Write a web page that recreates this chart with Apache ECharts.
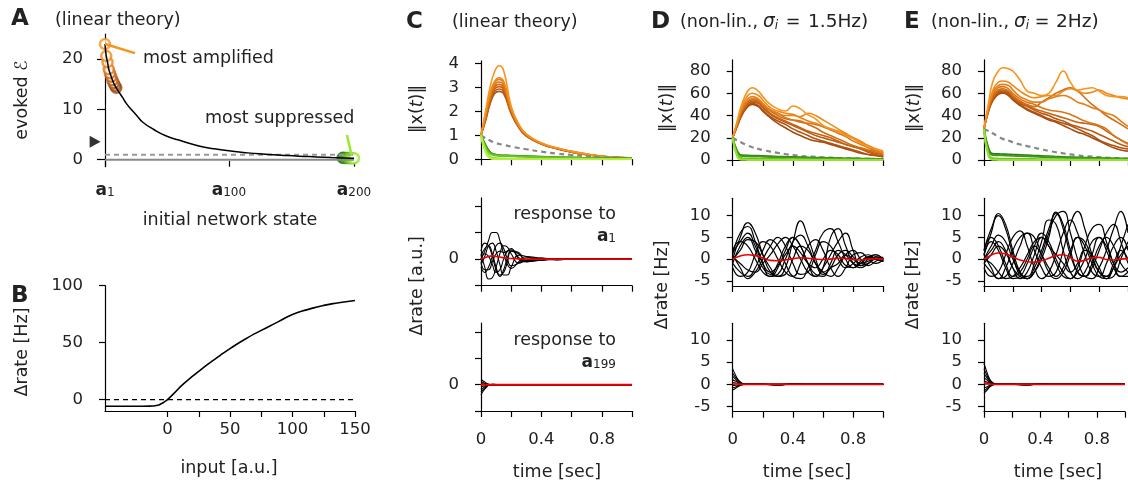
<!DOCTYPE html>
<html><head><meta charset="utf-8">
<script src="https://cdn.jsdelivr.net/npm/echarts@6/dist/echarts.min.js"></script>
<style>html,body{margin:0;padding:0;background:#fff}#c{width:1128px;height:487px}</style>
</head><body><div id="c"></div>
<script>
// ---------------- DATA ----------------
// Panel A: evoked energy vs initial state index
const idxA = [1,2,3,4,5,6,7,8,9,10,12,15,18,22,26,31,40,50,60,76,90,103,115,129,142,156,170,182,191,200];
const evokedA = [23,20.6,19.4,18.0,17.2,16.5,15.8,15.2,14.7,14.3,13.5,12.4,11.2,10.0,8.9,7.5,6.0,4.7,3.9,2.7,2.1,1.65,1.35,1.1,0.9,0.7,0.55,0.42,0.34,0.28];
const ampIdx = [1,2,3,4,5,6,7,8,9,10];
const ampVals = [23,20.6,19.4,18.0,17.2,16.5,15.8,15.2,14.7,14.3];
const supIdx = [191,192,193,194,195,196,197,198,199,200];
const supVals = [0.36,0.35,0.34,0.33,0.32,0.31,0.30,0.29,0.28,0.28];
const baselineA = 1;          // dashed reference
const triangleA = [-6.9, 3.55]; // black marker left of axis
const ampLeaderX = [1, 25], ampLeaderY = [23, 21.2];
const supLeaderX = [194.4, 198], supLeaderY = [4.9, 0.9];
const xTicksA = [1, 100, 200];
const yTicksA = [0, 10, 20];

// Panel B: transfer function
const inputB = [-50,-20,-12,-8,-5,-2,0,5,13,26,38,50,62,75,88,100,112,125,137,150];
const rateB  = [-5.8,-5.8,-5.6,-5.0,-3.6,-1.6,0,5.3,14,25.7,35.5,44.7,53,60.8,68,74.8,79,82.7,85,87];
const xTicksB = [0,25,50,75,100,125,150], xLabelsB = [0,50,100,150], yTicksB = [0,50,100];

// Panel C top (linear theory norms)
const tC = [0,0.03,0.06,0.09,0.12,0.15,0.2,0.25,0.3,0.4,0.5,0.6,0.7,0.8,0.9,1.0];
const ampC = [
 [1,2.0,3.0,3.65,3.9,3.7,2.2,1.45,1.05,0.68,0.48,0.33,0.22,0.13,0.08,0.05],
 [1,1.9,2.75,3.25,3.4,3.25,2.15,1.45,1.05,0.68,0.48,0.33,0.22,0.13,0.08,0.05],
 [1,1.85,2.7,3.2,3.33,3.2,2.1,1.42,1.03,0.67,0.47,0.32,0.21,0.13,0.08,0.05],
 [1,1.8,2.6,3.1,3.22,3.1,2.05,1.4,1.02,0.66,0.46,0.32,0.21,0.13,0.08,0.05],
 [1,1.75,2.5,3.0,3.12,3.0,2.0,1.38,1.0,0.65,0.46,0.31,0.2,0.12,0.07,0.05],
 [1,1.7,2.45,2.92,3.03,2.92,1.97,1.36,0.99,0.65,0.45,0.31,0.2,0.12,0.07,0.05],
 [1,1.65,2.38,2.83,2.93,2.83,1.93,1.34,0.98,0.64,0.45,0.3,0.2,0.12,0.07,0.04],
 [1,1.6,2.3,2.74,2.83,2.74,1.9,1.32,0.97,0.64,0.44,0.3,0.19,0.12,0.07,0.04]
];
const supC = [
 [1,0.6,0.3,0.2,0.17,0.16,0.15,0.14,0.13,0.11,0.09,0.07,0.05,0.04,0.03,0.02],
 [1,0.55,0.27,0.19,0.16,0.15,0.14,0.13,0.12,0.1,0.08,0.06,0.05,0.04,0.03,0.02],
 [1,0.5,0.24,0.17,0.15,0.14,0.13,0.12,0.11,0.09,0.07,0.06,0.04,0.03,0.02,0.02],
 [1,0.4,0.12,0.05,0.03,0.03,0.02,0.02,0.02,0.01,0.01,0.01,0,0,0,0],
 [1,0.3,0.05,0.01,0,0,0,0,0,0,0,0,0,0,0,0]
];
const grayC = [1,0.88,0.78,0.7,0.64,0.6,0.53,0.47,0.42,0.32,0.24,0.18,0.13,0.1,0.07,0.05];

// Panel C middle / bottom
const tCm = [0,0.025,0.05,0.075,0.1,0.125,0.15,0.175,0.2,0.25,0.3,0.4,0.5,0.6,0.7,0.8,0.9,1.0];
const respC1 = [
 [0,0.3,0.7,1.0,1.0,0.7,0.2,-0.2,-0.35,-0.1,0.1,0.02,-0.03,0,0,0,0,0],
 [0.2,-0.3,-0.75,-0.7,-0.3,0.2,0.5,0.45,0.2,-0.15,-0.05,0.03,0,0,0,0,0,0],
 [-0.2,0.1,0.5,0.6,0.3,-0.2,-0.6,-0.6,-0.3,0.15,0.1,-0.05,0,0,0,0,0,0],
 [0.1,0.4,0.5,0.2,-0.3,-0.6,-0.5,-0.1,0.3,0.2,-0.05,0,0.02,0,0,0,0,0],
 [-0.3,-0.5,-0.3,0.1,0.5,0.6,0.4,0,-0.25,-0.15,0.05,0.03,0,0,0,0,0,0],
 [0.3,0.6,0.5,0.1,-0.4,-0.65,-0.4,0.05,0.3,0.25,-0.1,-0.02,0.02,0,0,0,0,0],
 [-0.1,-0.4,-0.4,-0.1,0.2,0.3,0.25,0.3,0.35,0.05,-0.1,0.04,-0.02,0,0,0,0,0],
 [0,0.2,0.1,-0.2,-0.5,-0.4,0,0.3,0.4,0,-0.1,-0.04,0.02,0,0,0,0,0]
];
const meanC1 = [0,0.05,0.1,0.12,0.1,0.08,0.05,0.03,0.02,0.01,0,0,0,0,0,0,0,0];
const tB = [0,0.02,0.04,0.06,0.08,0.1,0.15,0.2,0.3,0.4,0.5,0.6,0.8,1.0];
const respC199 = [
 [0.2,0.12,0.05,0,-0.02,-0.01,0,0,0,0,0,0,0,0],
 [0.12,0.07,0.03,0,-0.01,0,0,0,0,0,0,0,0,0],
 [0.05,0.03,0.01,0,0,0,0,0,0,0,0,0,0,0],
 [-0.08,-0.05,-0.02,0,0.01,0,0,0,0,0,0,0,0,0],
 [-0.18,-0.1,-0.04,0,0.01,0,0,0,0,0,0,0,0,0],
 [-0.28,-0.15,-0.05,0.01,0.02,0,0,0,0,0,0,0,0,0],
 [-0.38,-0.2,-0.07,0.01,0.02,0.01,0,0,0,0,0,0,0,0]
];
const meanC199 = [0,0,0,0,0,0,0,0,0,0,0,0,0,0];

// Panels D / E top (non-linear norms)
const tD = [0,0.03,0.06,0.1,0.13,0.17,0.2,0.25,0.3,0.35,0.4,0.45,0.5,0.55,0.6,0.65,0.7,0.75,0.8,0.85,0.9,0.95,1.0];
const ampD = [
 [20,35,50,62,65,62,57,50,46,44,48.5,46,40.5,37,31,28,25.5,22,19,15,12,10,8],
 [20,34,48,58,60,58,54,47,44,42,41,39,42,40,36,32,28,24,20,17,13,10,7],
 [20,33,46,55,57,55,51,45,42,40,40,38,35,33,30,28,26,23,20,16,12,9,6],
 [20,33,45,53,55,54,50,45,42,38,36,34,33,32,30,27,24,21,17,14,11,8,6],
 [20,32,44,52,54,53,49,44,40,37,36,35,32,29,25,22,19,16,13,11,9,7,5],
 [20,32,43,51,53,52,48,42,38,35,32,29,26,24,22,20,17,14,12,10,8,6,5],
 [20,31,42,50,52,51,47,41,37,34,31,28,25,22,20,18,16,14,12,10,7,5,4],
 [20,31,41,49,51,49,45,39,35,32,28,25,22,19,17,15,13,11,9,7,5,4,3],
 [20,30,40,48,50,48,44,38,33,29,25,22,19,17,16,14,12,10,8,6,5,4,3]
];
const supD = [
 [20,8,4.2,4,3.9,3.8,3.6,3.3,3,2.8,2.6,2.4,2.2,2,1.8,1.7,1.5,1.4,1.3,1.2,1.1,1,0.9],
 [20,7,3.5,3.3,3.2,3.1,3,2.8,2.6,2.4,2.2,2,1.9,1.7,1.6,1.5,1.3,1.2,1.1,1,0.9,0.8,0.7],
 [20,5,1.5,1.2,1.1,1,1,0.9,0.8,0.8,0.7,0.6,0.6,0.5,0.5,0.4,0.4,0.4,0.3,0.3,0.3,0.2,0.2],
 [20,3,0.2,0.1,0,0,0,0,0,0,0,0,0,0,0,0,0,0,0,0,0,0,0]
];
const grayD = [20,17.5,15.5,13,11.5,10,9,7.6,6.4,5.3,4.4,3.7,3.2,2.8,2.4,2.1,1.8,1.5,1.3,1.2,1.0,0.9,0.8];
const ampE = [
 [28,50,70,80,83,82,80,72,62,60,58,60,70,80,70,63,64,65,62,58,57,57,56],
 [28,48,62,70,71,70,67,62,58,56,57,58,58,62,64,62,60,61,63,60,58,56,55],
 [28,47,60,67,68,67,63,57,54,52,52,55,57,58,56,52,50,47,45,42,40,35,30],
 [28,46,58,65,66,64,60,55,52,50,47,45,44,43,41,38,35,33,31,28,22,18,14],
 [28,45,57,63,64,62,58,53,50,48,52,56,60,63,65,62,56,50,45,40,36,32,28],
 [28,45,56,62,63,61,57,52,49,46,44,42,40,38,36,34,33,32,30,26,22,18,15],
 [28,44,55,61,62,60,56,51,48,45,42,40,37,35,32,30,28,26,23,20,17,14,12],
 [28,44,54,60,61,59,55,50,46,43,40,37,35,33,31,28,25,22,18,15,13,11,10],
 [28,43,53,59,60,58,54,49,45,42,39,36,34,31,28,25,23,20,17,14,11,9,8]
];
const supE = [
 [28,11,5.6,5.3,5.2,5,4.8,4.5,4.2,3.9,3.6,3.3,3,2.7,2.5,2.3,2.1,1.9,1.7,1.5,1.4,1.3,1.2],
 [28,9,4.5,4.3,4.2,4,3.8,3.6,3.3,3.1,2.8,2.6,2.4,2.2,2,1.8,1.6,1.5,1.4,1.2,1.1,1,0.9],
 [28,6,1.5,1.2,1.1,1,1,0.9,0.9,0.8,0.7,0.7,0.6,0.6,0.5,0.5,0.4,0.4,0.4,0.3,0.3,0.3,0.2],
 [28,4,0.3,0.1,0,0,0,0,0,0,0,0,0,0,0,0,0,0,0,0,0,0,0]
];
const grayE = [28,26,24,21,19,17.5,16,14,12.5,11,9.5,8.2,7,6,5,4.2,3.5,3,2.5,2.1,1.8,1.5,1.3];

// Panels D / E middle (responses to a1)
const tM = [0,0.05,0.1,0.15,0.2,0.25,0.3,0.35,0.4,0.45,0.5,0.55,0.6,0.65,0.7,0.75,0.8,0.85,0.9,0.95,1.0];
const respD1 = [
 [0,5,8.4,6,1,-3,-4,-2,4,8.8,5,0,-3,-2,-1,1,0,-1,0.5,0,-0.5],
 [1,6,7.5,4,-1,-4,-3.5,0,4,5.5,3,-1,-3.5,-2,1,2,0.5,-1,-0.5,0.5,0],
 [-1,-3,-4,-2,2,4.5,3,-1,-4,-4.5,-2,2,6,7,4,0,-2,-1,0.5,1,-0.5],
 [2,4,3,0,-3,-4,-2,2,5,3,-1,-4,-2,5,7,3,-1,-2,-1,0.5,0],
 [-2,-4,-3,1,4,3,0,-3,-4,-1,3,4.5,2,-2,-4,-2,1,1.5,0,-1,0],
 [0,2,4.5,4,1,-2,-4,-3.5,0,3,2,-1,-3,-4,-2,1,2,0,-1.5,-0.5,0.5],
 [1,-2,-4.5,-3,0,3,5,3,-1,-3.5,-3,1,4,3,0,-2,-1,0.5,1,0,-0.5],
 [-1,3,5,2,-2,-3.5,-1,3,5,3,-1,-3.5,-4,-1,2,1,-1,-1.5,0,1,0],
 [0.5,-1,-2.5,-3,-1,1,3.5,5,3,0,-3,-4,-2,1,4,6,2,-1.5,-1,0,-0.5],
 [1.5,4,6,3,-1,-3,-1.5,1,3,1.5,-1,-2,0,2,1,-1.5,-2,-0.5,0.5,0,0]
];
const meanD1 = [0,0.7,1,0.8,0.3,-0.3,-0.4,-0.2,0.1,0.3,0.2,0,-0.1,0,0.2,0.1,-0.1,-0.2,0,0.1,0];
const respE1 = [
 [1,6,10.5,8,2,-3,-4.5,-3,0,5,10.8,8,2,-3,-4,-2,2,6,8,4,-1],
 [2,7,10,7,1,-3.5,-4,-1,4,9,8,2,-3,-4.5,-3,1,5,3,-1,-3,-2],
 [-1,-3,-4.5,-2,2,5,6,2,-2,-4,-3,2,8,11,7,1,-3,-4,-2,3,8],
 [0,3,5.5,4,0,-3,-4.5,-3,1,6,10,11,6,0,-4,-4.5,-2,2,7,11,6],
 [-2,-4,-3,1,5,6.5,3,-2,-4.5,-3,1,6,9,6,1,-3,-4,-1,3,5,2],
 [1,-2,-4.5,-4,-1,3,6,5,1,-3,-4.5,-3,1,5,4,0,-3,-4,-1,2,0],
 [0,2,4,2,-2,-4.5,-3,1,5,3,-1,-4,-4.5,-2,3,7,8,4,-1,-4,-3],
 [2,5,3,-1,-4,-3,0,3,1,-2,-4,-2,2,5,3,-1,-4,-4.5,-2,1,3],
 [-1,1,3,1.5,-2,-4,-4.5,-2,2,7,10.5,7,1,-3,-4,-1,3,5,3,-1,-3],
 [1,4,2,-2,-4.5,-4,-1,3,6,4,0,-3,-4.5,-3,0,4,5,2,-2,-4,-4],
 [0,-1,-3,-4.5,-4,-2,1,4,5,3,1,-1,-3,-1,2,1,-2,-4.5,-4,0,4]
];
const meanE1 = [0,0.9,1.4,1.2,0.5,-0.2,-0.6,-0.7,-0.4,0.2,0.8,1,0.3,-0.5,-0.3,0.3,0.4,-0.1,-0.2,0,0.1];

// Panels D / E bottom (responses to a199)
const respD199 = [
 [3.5,2.0,0.9,0.3,0.05,0,0,0,-0.2,0.1,0,0,0,0],
 [2.5,1.5,0.7,0.2,0,0,0,0,-0.15,0.08,0,0,0,0],
 [1.8,1.1,0.5,0.15,0,0,0,0,-0.1,0.05,0,0,0,0],
 [1.0,0.7,0.35,0.1,0,0,0,0,-0.1,0.05,0,0,0,0],
 [0.4,0.3,0.15,0.05,0,0,0,0,0,0,0,0,0,0],
 [-0.3,-0.2,-0.1,0,0,0,0,0,0,0,0,0,0,0],
 [-0.8,-0.6,-0.3,-0.1,0,0,0,0,0,0,0,0,0,0],
 [-1.3,-0.9,-0.45,-0.15,0,0,0,0,0,0,0,0,0,0]
];
const meanD199 = [0,0.1,0.05,0,0,0,0,0,0,0,0,0,0,0];
const respE199 = [
 [4.7,2.8,1.2,0.4,0.1,0,0,0,-0.2,0.1,0,0,0,0],
 [3.5,2.1,0.9,0.3,0.05,0,0,0,-0.15,0.08,0,0,0,0],
 [2.5,1.5,0.7,0.2,0,0,0,0,-0.1,0.05,0,0,0,0],
 [1.5,1.0,0.45,0.15,0,0,0,0,0,0,0,0,0,0],
 [0.8,0.5,0.25,0.08,0,0,0,0,0,0,0,0,0,0],
 [0,0.1,0.05,0,0,0,0,0,0,0,0,0,0,0],
 [-0.8,-0.6,-0.3,-0.1,0,0,0,0,0,0,0,0,0,0],
 [-1.5,-1.0,-0.5,-0.15,0,0,0,0,0,0,0,0,0,0],
 [-2.0,-1.4,-0.65,-0.2,0,0,0,0,0,0,0,0,0,0]
];
const meanE199 = [0.3,0.2,0.1,0,0,0,0,0,0,0,0,0,0,0];

const timeTicksLabelled = [0, 0.4, 0.8];
const yTicksRate = [-5,0,5,10];
const yTicksNorm = [0,20,40,60,80];
const yTicksC = [0,1,2,3,4];
const yTicksCr = [-1,0,1,2];

// ---------------- STYLE ----------------
const FF = 'DejaVu Sans';
const TXT = '#222';
const orangeShades = ['#f7941d','#ee8a1a','#e48018','#d97616','#cf6d15','#c46414','#b95b13','#ae5312','#a34b11'];
const greenShades = ['#2a7d12','#3f9a18','#6cc424','#95e030','#b4f040'];
const ampCircleColors = ['#f7931e','#f08a1c','#e9821a','#d97316','#cc6815','#bf5e14','#b25613','#a85012','#9e4b12','#964611'];
const supCircleColors = ['#1f6e0e','#2a7d12','#358a15','#409818','#4ea61b','#5cb41e','#6cc222','#7cd026','#8cdc2a','#9ce82e'];

const gridKeys = ['A','B','C1','C2','C3','D1','D2','D3','E1','E2','E3'];
const gi = k => gridKeys.indexOf(k);
const grids = {
  A:{left:105,top:34,width:249,height:132.7},
  B:{left:105,top:285.7,width:250,height:125.3},
  C1:{left:481,top:60.9,width:151,height:98.4},
  C2:{left:481,top:197.9,width:151,height:87.8},
  C3:{left:481,top:323,width:151,height:88},
  D1:{left:732.7,top:59.9,width:150.6,height:100.1},
  D2:{left:732.7,top:198.3,width:150.6,height:87.7},
  D3:{left:732.7,top:323.3,width:150.6,height:88.4},
  E1:{left:984,top:59.9,width:150.7,height:100.1},
  E2:{left:984,top:198.3,width:150.7,height:87.7},
  E3:{left:984,top:323.3,width:150.7,height:88.4}
};
const AX = {color:'#000', width:1.2};
const labelBase = {color:TXT, fontSize:16.5, fontFamily:FF};

function timeX(g, showLabels) {
  return {gridIndex:gi(g), type:'value', min:0, max:1, interval:0.2,
    axisLine:{show:true, onZero:false, lineStyle:AX},
    axisTick:{show:true, length:6, lineStyle:AX},
    axisLabel: showLabels ? Object.assign({}, labelBase, {margin:20, showMaxLabel:true,
      formatter: v => { const r = Math.round(v*10)/10; return timeTicksLabelled.includes(r) ? String(r) : ''; }}) : {show:false},
    splitLine:{show:false}};
}
function valY(g, min, max, ticks, labels) {
  return {gridIndex:gi(g), type:'value', min, max,
    axisLine:{show:true, onZero:false, lineStyle:AX},
    axisTick:{show:true, length:6, lineStyle:AX, customValues:ticks},
    axisLabel: Object.assign({}, labelBase, {margin:22, customValues:labels||ticks}),
    splitLine:{show:false}};
}
const subRich = {
  a:{fontSize:17, fontWeight:'bold', fontFamily:FF, color:TXT, lineHeight:20, verticalAlign:'bottom'},
  s:{fontSize:12, fontFamily:FF, color:TXT, lineHeight:6, verticalAlign:'bottom'}
};

const xAxes = [
  {gridIndex:gi('A'), type:'value', min:1, max:200,
   axisLine:{show:false, onZero:false},
   axisTick:{show:true, inside:true, length:6, lineStyle:AX, customValues:xTicksA},
   axisLabel:{customValues:xTicksA, margin:12, formatter: v => `{a|a}{s|${v}}`, rich:subRich},
   splitLine:{show:false}},
  {gridIndex:gi('B'), type:'value', min:-50, max:150,
   axisLine:{show:true, onZero:false, lineStyle:AX},
   axisTick:{show:true, length:6, lineStyle:AX, customValues:xTicksB},
   axisLabel:Object.assign({}, labelBase, {margin:10, customValues:xLabelsB}),
   splitLine:{show:false}},
  timeX('C1',false), timeX('C2',false), timeX('C3',true),
  timeX('D1',false), timeX('D2',false), timeX('D3',true),
  timeX('E1',false), timeX('E2',false), timeX('E3',true)
];
const yAxes = [
  Object.assign(valY('A', -1.4, 25, yTicksA), {axisTick:{show:true,length:8,lineStyle:AX,customValues:yTicksA}}),
  valY('B', -10, 100, yTicksB),
  valY('C1', 0, 4.1, yTicksC),
  valY('C2', -1, 2.3, yTicksCr, [0]),
  valY('C3', -1, 2.35, yTicksCr, [0]),
  valY('D1', 0, 90, yTicksNorm),
  valY('D2', -6.2, 14, yTicksRate),
  valY('D3', -6.2, 13.8, yTicksRate),
  valY('E1', 0, 90, yTicksNorm),
  valY('E2', -6.2, 14, yTicksRate),
  valY('E3', -6.2, 13.8, yTicksRate)
];

const series = [];
function L(g, xs, ys, color, width, extra) {
  series.push(Object.assign({type:'line', xAxisIndex:gi(g), yAxisIndex:gi(g),
    data: xs.map((x,i)=>[x, ys[i]]), showSymbol:false, smooth:0.5, silent:true,
    lineStyle:{color, width}}, extra||{}));
}
const dashed = (c,w) => ({lineStyle:{color:c, width:w, type:[5,4]}, smooth:0.5});

// Panel A
L('A', [1,200], [0,0], '#888', 2, {smooth:false});
L('A', [1,200], [baselineA, baselineA], '#999', 2, Object.assign(dashed('#999',2), {smooth:false}));
L('A', idxA, evokedA, '#000', 1.5);
L('A', ampLeaderX, ampLeaderY, '#f7941d', 2.5, {smooth:false});
L('A', supLeaderX, supLeaderY, '#9ce82e', 2.5, {smooth:false});
series.push({type:'scatter', xAxisIndex:gi('A'), yAxisIndex:gi('A'), symbol:'circle', symbolSize:10, silent:true,
  data: ampIdx.map((x,i)=>({value:[x, ampVals[i]], itemStyle:{color:'#fff', borderColor:ampCircleColors[i], borderWidth:2.5}})).reverse()});
series.push({type:'scatter', xAxisIndex:gi('A'), yAxisIndex:gi('A'), symbol:'circle', symbolSize:10, silent:true,
  data: supIdx.map((x,i)=>({value:[x, supVals[i]], itemStyle:{color:'#fff', borderColor:supCircleColors[i], borderWidth:2.5}}))});
series.push({type:'scatter', xAxisIndex:gi('A'), yAxisIndex:gi('A'), symbol:'triangle', symbolRotate:-90, symbolSize:[12,11],
  clip:false, silent:true, itemStyle:{color:'#000'}, data:[triangleA]});

// Panel B
L('B', [-50,150], [0,0], '#000', 1.3, Object.assign(dashed('#000',1.3), {smooth:false}));
L('B', inputB, rateB, '#000', 1.6, {smooth:0.6});

// Panel C
ampC.slice().reverse().forEach((ys,i)=> L('C1', tC, ys, orangeShades[ampC.length-1-i], 1.6));
L('C1', tC, grayC, '#888', 2, dashed('#888',2.2));
supC.forEach((ys,i)=> L('C1', tC, ys, greenShades[i], 2));
respC1.forEach(ys => L('C2', tCm, ys, '#000', 1.1));
L('C2', tCm, meanC1, '#e00', 1.6);
respC199.forEach(ys => L('C3', tB, ys, '#000', 1.1));
L('C3', tB, meanC199, '#e00', 1.8);

// Panel D
ampD.slice().reverse().forEach((ys,i)=> L('D1', tD, ys, orangeShades[ampD.length-1-i], 1.6));
L('D1', tD, grayD, '#888', 2, dashed('#888',2.2));
supD.forEach((ys,i)=> L('D1', tD, ys, greenShades[i], 2));
respD1.forEach(ys => L('D2', tM, ys, '#000', 1.2));
L('D2', tM, meanD1, '#e00', 1.6);
respD199.forEach(ys => L('D3', tB, ys, '#000', 1.1));
L('D3', tB, meanD199, '#e00', 1.8);

// Panel E
ampE.slice().reverse().forEach((ys,i)=> L('E1', tD, ys, orangeShades[ampE.length-1-i], 1.6));
L('E1', tD, grayE, '#888', 2, dashed('#888',2.2));
supE.forEach((ys,i)=> L('E1', tD, ys, greenShades[i], 2));
respE1.forEach(ys => L('E2', tM, ys, '#000', 1.2));
L('E2', tM, meanE1, '#e00', 1.6);
respE199.forEach(ys => L('E3', tB, ys, '#000', 1.1));
L('E3', tB, meanE199, '#e00', 1.8);

// ---------------- TEXT ----------------
function T(x, y, text, opts) {
  const o = opts || {};
  const st = Object.assign({text, fill:TXT, fontSize:o.size||17.5, fontFamily:FF, fontWeight:o.weight||'normal',
    fontStyle:o.style||'normal',
    textAlign:o.align||'left', textVerticalAlign:'middle', align:o.align||'left', verticalAlign:'middle'}, o.rich?{rich:o.rich}:{});
  return {type:'text', x, y, rotation:o.rot||0, silent:true, style:st, z:100};
}
const R90 = Math.PI/2;
const normRich = {i:{fontSize:17.5,fontFamily:FF,fontStyle:'italic',color:TXT}};
const sigRich = {
  i:{fontSize:18.5, fontFamily:FF, fontStyle:'italic', color:TXT, lineHeight:20, verticalAlign:'bottom'},
  s:{fontSize:12, fontFamily:FF, fontStyle:'italic', color:TXT, lineHeight:6, verticalAlign:'bottom'}
};
const graphic = [
  T(11, 19, 'A', {size:23, weight:'bold'}),
  T(55, 20, '(linear theory)'),
  T(11, 296, 'B', {size:23, weight:'bold'}),
  T(406, 22, 'C', {size:23, weight:'bold'}),
  T(452, 22, '(linear theory)'),
  T(651, 22, 'D', {size:23, weight:'bold'}),
  T(680, 22, '(non-lin.,'),
  T(763, 22, '{i|σ}{s|i}', {rich:sigRich}),
  T(793, 22, '=', {align:'center'}),
  T(808, 22, '1.5Hz)', {size:18.5}),
  T(904, 22, 'E', {size:23, weight:'bold'}),
  T(931, 22, '(non-lin.,'),
  T(1014, 22, '{i|σ}{s|i}', {rich:sigRich}),
  T(1042, 22, '=', {align:'center'}),
  T(1056, 22, '2Hz)', {size:18.5}),
  T(143, 58, 'most amplified'),
  T(205, 118, 'most suppressed'),
  T(616, 214, 'response to', {align:'right'}),
  T(616, 235, '{a|a}{s|1}', {align:'right', rich:subRich}),
  T(616, 340, 'response to', {align:'right'}),
  T(616, 361, '{a|a}{s|199}', {align:'right', rich:subRich}),
  T(22, 100, 'evoked ℰ', {align:'center', rot:R90}),
  T(22, 352, 'Δrate [Hz]', {align:'center', rot:R90}),
  T(417, 109, '‖x({i|t})‖', {align:'center', rot:R90, rich:normRich}),
  T(417, 286, 'Δrate [a.u.]', {align:'center', rot:R90}),
  T(667, 108, '‖x({i|t})‖', {align:'center', rot:R90, rich:normRich}),
  T(662, 285, 'Δrate [Hz]', {align:'center', rot:R90}),
  T(914, 108, '‖x({i|t})‖', {align:'center', rot:R90, rich:normRich}),
  T(913, 285, 'Δrate [Hz]', {align:'center', rot:R90}),
  T(230, 220, 'initial network state', {align:'center'}),
  T(229, 468, 'input [a.u.]', {align:'center'}),
  T(557, 472, 'time [sec]', {align:'center'}),
  T(807, 472, 'time [sec]', {align:'center'}),
  T(1058, 472, 'time [sec]', {align:'center'})
];

const chart = echarts.init(document.getElementById('c'), null, {renderer:'canvas'});
chart.setOption({
  animation:false,
  backgroundColor:'#fff',
  textStyle:{fontFamily:FF},
  grid: gridKeys.map(k => Object.assign({containLabel:false}, grids[k])),
  xAxis: xAxes,
  yAxis: yAxes,
  series,
  graphic
});
</script></body></html>
